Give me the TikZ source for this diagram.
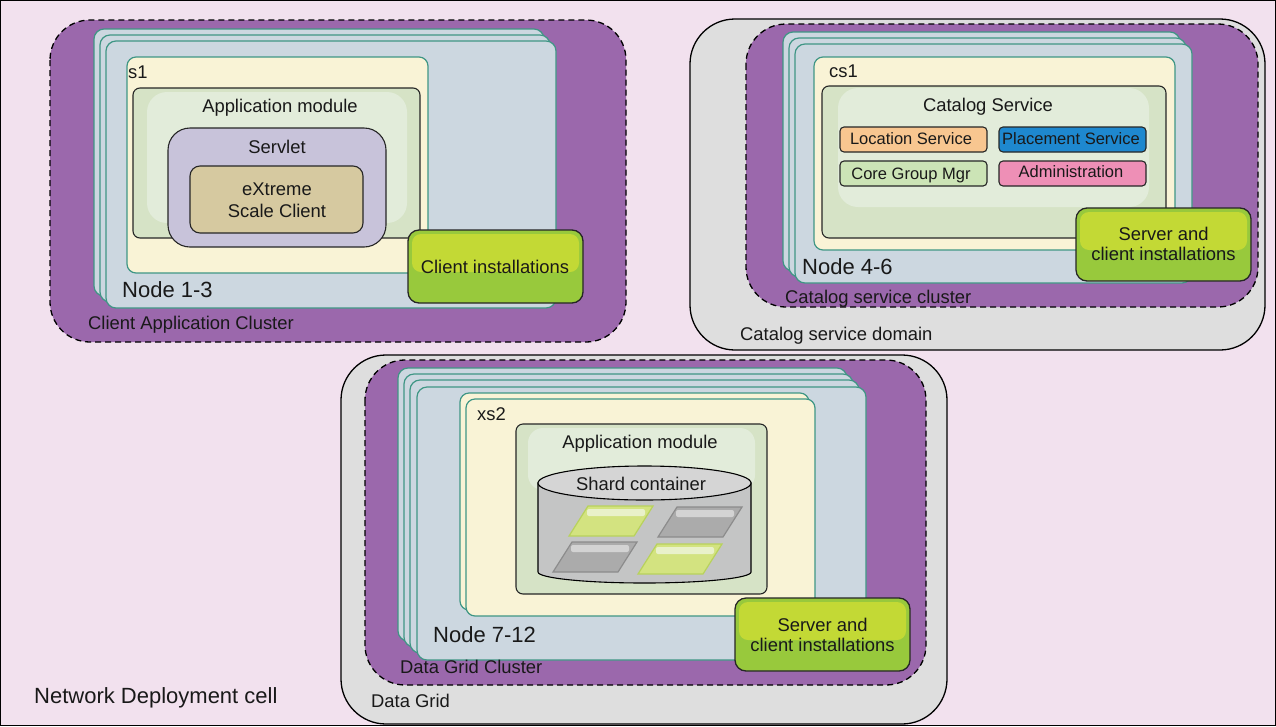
\documentclass[tikz,border=0pt]{standalone}
\usepackage{fontspec}
\setmainfont{Liberation Sans}

\definecolor{bgpink}{HTML}{F2E1EE}
\definecolor{clusterpurple}{HTML}{9B68AC}
\definecolor{domaingrey}{HTML}{DEDEDE}
\definecolor{nodeblue}{HTML}{CCD7E0}
\definecolor{nodeteal}{HTML}{3F9685}
\definecolor{serveryellow}{HTML}{F9F3D6}
\definecolor{modulegreen}{HTML}{D6E3C6}
\definecolor{moduleinner}{HTML}{E2ECDA}
\definecolor{servletlilac}{HTML}{C8C3DA}
\definecolor{clienttan}{HTML}{D6C9A0}
\definecolor{instdark}{HTML}{98C93C}
\definecolor{instlight}{HTML}{C3D935}
\definecolor{locorange}{HTML}{F8C690}
\definecolor{placeblue}{HTML}{1E88CF}
\definecolor{coregreen}{HTML}{CCE4B6}
\definecolor{adminpink}{HTML}{EE8FB6}
\definecolor{cylbody}{HTML}{C4C5C5}
\definecolor{cyltop}{HTML}{D5D5D5}
\definecolor{shardgreen}{HTML}{D3E380}
\definecolor{shardgreenline}{HTML}{B8D25C}
\definecolor{shardgreenhi}{HTML}{E9F1CA}
\definecolor{shardgrey}{HTML}{ABABAB}
\definecolor{shardgreyline}{HTML}{8C8C8C}
\definecolor{shardgreyhi}{HTML}{D3D3D3}

\begin{document}
\begin{tikzpicture}[x=1pt, y=-1pt,
	cluster/.style={fill=clusterpurple, draw=black, line width=1.3pt, dash pattern=on 6pt off 4pt, rounded corners=40pt},
	domainbox/.style={fill=domaingrey, draw=black, line width=1.3pt, rounded corners=45pt},
	nodelayer/.style={fill=nodeblue, draw=nodeteal, line width=1.2pt, rounded corners=10pt},
	serverbox/.style={fill=serveryellow, draw=nodeteal, line width=1.2pt, rounded corners=9pt},
	modulebox/.style={fill=modulegreen, draw=black!85, line width=1.1pt, rounded corners=7pt},
	install/.style={fill=instdark, draw=black!85, line width=1.3pt, rounded corners=11pt},
	service/.style={draw=black!85, line width=1.1pt, rounded corners=4pt},
	lbl/.style={font=\fontsize{18.4}{20.5}\selectfont, inner sep=0pt, text=black!90},
	smalllbl/.style={font=\fontsize{16.5}{18}\selectfont, inner sep=0pt, text=black!90},
	biglbl/.style={font=\fontsize{22}{24}\selectfont, inner sep=0pt, text=black!90}]
	% Hintergrund
	\useasboundingbox (0,0) rectangle (1276,726);
	\draw[fill=bgpink, line width=1pt] (0.5,0.5) rectangle (1275.5,725.5);

	% Client-Cluster
	\draw[cluster] (50,20) rectangle (626,342);
	\foreach \d in {0,6,12}
		\draw[nodelayer] (94+\d,29+\d) rectangle (544+\d,296+\d);
	\draw[serverbox] (127,57) rectangle (428,273);
	\draw[modulebox] (133,88) rectangle (420,238);
	\fill[moduleinner, rounded corners=20pt] (147,92) rectangle (407,223);
	\draw[fill=servletlilac, draw=black!85, line width=1.1pt, rounded corners=22pt] (168,128) rectangle (386,247);
	\draw[fill=clienttan, draw=black!85, line width=1.1pt, rounded corners=10pt] (190,166) rectangle (363,233);

	% Katalog-Domaene
	\draw[domainbox] (690,19) rectangle (1265,350);
	\draw[cluster] (746,24) rectangle (1258,307);
	\foreach \d in {0,6,12}
		\draw[nodelayer] (783+\d,32+\d) rectangle (1180+\d,271+\d);
	\draw[serverbox] (814,57) rectangle (1175,250);
	\draw[modulebox] (822,86) rectangle (1166,238);
	\fill[moduleinner, rounded corners=20pt] (838,88) rectangle (1149,207);
	\draw[service, fill=locorange] (840,127) rectangle (987,152);
	\draw[service, fill=placeblue] (999,127) rectangle (1146,152);
	\draw[service, fill=coregreen] (840,161) rectangle (987,186);
	\draw[service, fill=adminpink] (999,161) rectangle (1146,186);

	% Data Grid
	\draw[domainbox] (341,355) rectangle (947,724);
	\draw[cluster] (365,360) rectangle (926,685);
	\foreach \d in {0,6,12,19}
		\draw[nodelayer] (398+\d,368+\d) rectangle (847+\d,641+\d);
	\foreach \d in {0,6}
		\draw[serverbox] (460+\d,393+\d) rectangle (809+\d,610+\d);
	\draw[modulebox] (516,424) rectangle (767,594);
	\fill[moduleinner, rounded corners=15pt] (528,428) rectangle (755,490);
	% Zylinder
	\draw[fill=cylbody, line width=1.1pt] (538,483) -- (538,572)
		arc[start angle=180, end angle=360, x radius=106.5pt, y radius=11pt] -- (751,483) -- cycle;
	\draw[fill=cyltop, line width=1.1pt] (644.5,483) ellipse[x radius=106.5pt, y radius=17pt];
	\foreach \sx/\sy/\sf/\sl/\sh in {588/506/shardgreen/shardgreenline/shardgreenhi,
			677/507/shardgrey/shardgreyline/shardgreyhi,
			572/542/shardgrey/shardgreyline/shardgreyhi,
			657/544/shardgreen/shardgreenline/shardgreenhi} {
		\draw[fill=\sf, draw=\sl, line width=1.2pt] (\sx,\sy) -- (\sx+65,\sy) -- (\sx+46,\sy+30) -- (\sx-19,\sy+30) -- cycle;
		\fill[\sh, rounded corners=2pt] (\sx-1,\sy+3) rectangle (\sx+57,\sy+10);
	}

	% Installationen
	\foreach \ix/\iy in {408/230, 1076/208, 735/598} {
		\draw[install] (\ix,\iy) rectangle ++(175,73);
		\fill[instlight, rounded corners=9pt] (\ix+4,\iy+4) rectangle (\ix+171,\iy+42);
	}

	% Beschriftungen
	\node[lbl, anchor=base west] (s1) at (128,78) {s1};
	\node[lbl, anchor=base] (appmod) at (280,112) {Application module};
	\node[lbl, anchor=base] (servlet) at (277,153) {Servlet};
	\node[lbl, anchor=base] (xsline1) at (277,195) {eXtreme};
	\node[lbl, anchor=base] (xsline2) at (277,217) {Scale Client};
	\node[biglbl, anchor=base west] (node13) at (122,297) {Node 1-3};
	\node[lbl, anchor=base west] (cacluster) at (88,329) {Client Application Cluster};
	\node[lbl, anchor=base] (clientinst) at (495,273) {Client installations};

	\node[lbl, anchor=base west] (cs1) at (829,77) {cs1};
	\node[lbl, anchor=base] (catsvc) at (988,111) {Catalog Service};
	\node[smalllbl, anchor=base] (locsvc) at (911,144.5) {Location Service};
	\node[smalllbl, anchor=base] (placesvc) at (1071,144.5) {Placement Service};
	\node[smalllbl, anchor=base] (coremgr) at (911,179) {Core Group Mgr};
	\node[smalllbl, anchor=base] (admin) at (1071,177.5) {Administration};
	\node[biglbl, anchor=base west] (node46) at (802,274) {Node 4-6};
	\node[lbl, anchor=base] (csinst1) at (1163.5,240) {Server and};
	\node[lbl, anchor=base] (csinst2) at (1163.5,260) {client installations};
	\node[lbl, anchor=base west] (cscluster) at (785,303) {Catalog service cluster};
	\node[lbl, anchor=base west] (csdomain) at (740,340) {Catalog service domain};

	\node[lbl, anchor=base west] (xs2) at (477,420) {xs2};
	\node[lbl, anchor=base] (dgappmod) at (640,448) {Application module};
	\node[lbl, anchor=base] (shard) at (641,490) {Shard container};
	\node[biglbl, anchor=base west] (node712) at (433,642) {Node 7-12};
	\node[lbl, anchor=base] (dginst1) at (822.5,631) {Server and};
	\node[lbl, anchor=base] (dginst2) at (822.5,651) {client installations};
	\node[lbl, anchor=base west] (dgcluster) at (400,673) {Data Grid Cluster};
	\node[lbl, anchor=base west] (datagrid) at (371,707) {Data Grid};
	\node[biglbl, anchor=base west] (ndcell) at (34,703) {Network Deployment cell};
\end{tikzpicture}
\end{document}
